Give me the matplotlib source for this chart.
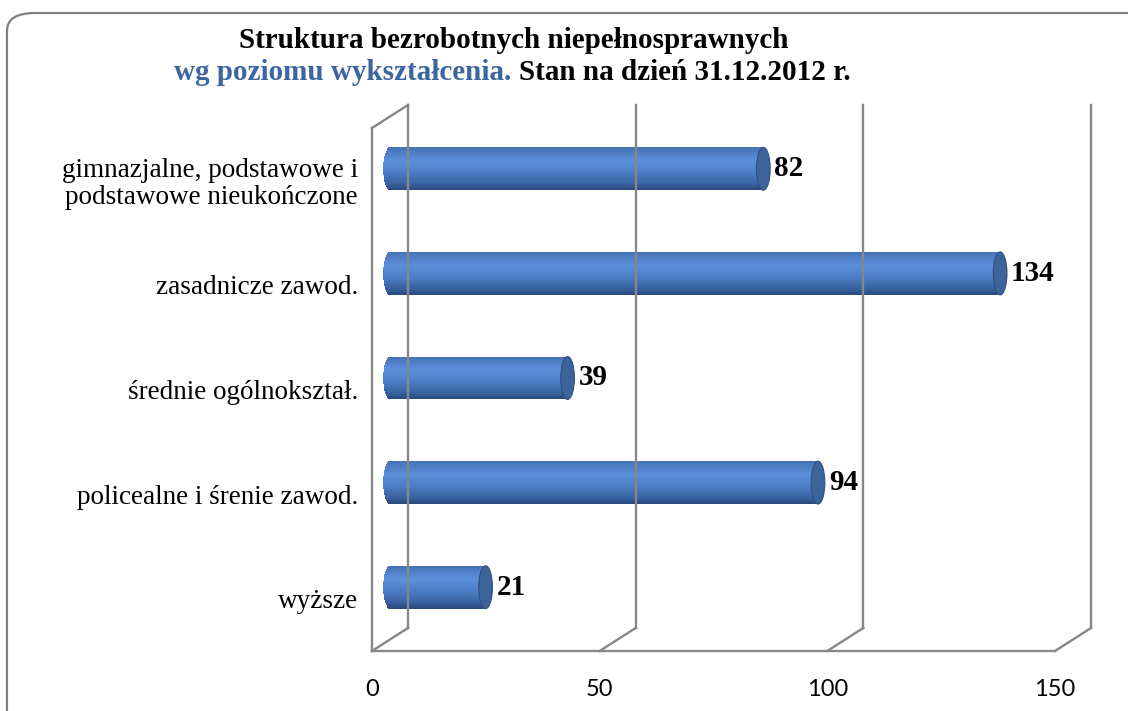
import numpy as np
import matplotlib.pyplot as plt
from matplotlib.patches import Ellipse, FancyBboxPatch
from matplotlib.colors import LinearSegmentedColormap

# dane
kategorie = ["wyższe", "policealne i śrenie zawod.", "średnie ogólnokształ.",
             "zasadnicze zawod.", "gimnazjalne, podstawowe i\npodstawowe nieukończone"]
wartosci = [21, 94, 39, 134, 82]
ticki = [0, 50, 100, 150]

# geometria "3D"
dx, dy = 7.9, 0.22          # przesunięcie tylnej ściany (jedn. danych)
sx, sy = dx / 2, dy / 2     # słupki w połowie głębokości
h = 0.41                    # wysokość walca
a = 1.5                     # półoś elipsy (x)
szary = "#878787"

fig = plt.figure(figsize=(11.28, 7.11), dpi=100)
ax = fig.add_axes([372 / 1128, 60 / 711, 683 / 1128, 523 / 711])
ax.set_xlim(0, 150)
ax.set_ylim(-0.5, 4.5)
for s in ax.spines.values():
    s.set_visible(False)

# ramka: podłoga, lewa ściana, linie siatki
y_lo, y_hi = -0.5, 4.5
ax.plot([0, 150], [y_lo, y_lo], color=szary, lw=1.7, clip_on=False)
ax.plot([0, 0], [y_lo, y_hi], color=szary, lw=1.7, clip_on=False)
ax.plot([0, dx], [y_hi, y_hi + dy], color=szary, lw=1.7, clip_on=False)
for t in ticki:
    ax.plot([t, t + dx], [y_lo, y_lo + dy], color=szary, lw=1.7, clip_on=False)
    ax.plot([t + dx, t + dx], [y_lo + dy, y_hi + dy], color=szary, lw=1.7, clip_on=False)

# walce - gradient z pasków
cmap = LinearSegmentedColormap.from_list("walec", [
    (0.0, "#4672b4"), (0.3, "#5b8fda"), (0.55, "#4e81ca"),
    (0.85, "#3862a0"), (1.0, "#29487a")])
N = 40
ypos = np.arange(len(wartosci)) + sy
vals = np.array(wartosci, dtype=float)
for k in range(N):
    t_top = (k + 0.5) / N               # od góry
    yc = h / 2 - t_top * h
    lewa = sx - a * np.sqrt(max(0.0, 1 - (yc / (h / 2)) ** 2))
    ax.barh(ypos + yc, vals + sx - lewa, left=lewa, height=h / N * 1.05,
            color=cmap(t_top), linewidth=0, clip_on=False)

for i, v in enumerate(wartosci):
    ax.add_patch(Ellipse((v + sx, i + sy), 2 * a, h, facecolor="#3d639b",
                         edgecolor="#2f4f80", lw=0.8, clip_on=False))
    ax.text(v + sx + a + 0.9, i + sy, str(v), va="center", ha="left",
            fontsize=21, fontweight="bold", family="Liberation Serif")

# osie
ax.set_yticks(range(len(kategorie)))
ax.set_yticklabels(kategorie, fontsize=19.5, family="Liberation Serif")
ax.set_xticks(ticki)
ax.set_xticklabels([str(t) for t in ticki], fontsize=17, family="Lato")
ax.tick_params(axis="y", length=0, pad=10)
ax.tick_params(axis="x", length=0, pad=20)
for lab in ax.get_yticklabels():
    lab.set_multialignment("right")
    lab.set_linespacing(1.1)

# tytuł
fig.text(514 / 1128, 1 - 40 / 711, "Struktura bezrobotnych niepełnosprawnych",
         ha="center", va="center", fontsize=21, fontweight="bold",
         family="Liberation Serif")
fig.text(511 / 1128, 1 - 72 / 711, "wg poziomu wykształcenia.",
         ha="right", va="center", fontsize=21, fontweight="bold",
         family="Liberation Serif", color="#3c66a0")
fig.text(519 / 1128, 1 - 72 / 711, "Stan na dzień 31.12.2012 r.",
         ha="left", va="center", fontsize=21, fontweight="bold",
         family="Liberation Serif")

# ramka wykresu
fig.patches.append(FancyBboxPatch((7 / 1128, -20 / 711), 1.1, (711 - 13 + 20) / 711,
                                  boxstyle="round,pad=0,rounding_size=0.025",
                                  transform=fig.transFigure, facecolor="none",
                                  edgecolor="#7f7f7f", lw=1.6))

fig.savefig("out.png", dpi=100)
